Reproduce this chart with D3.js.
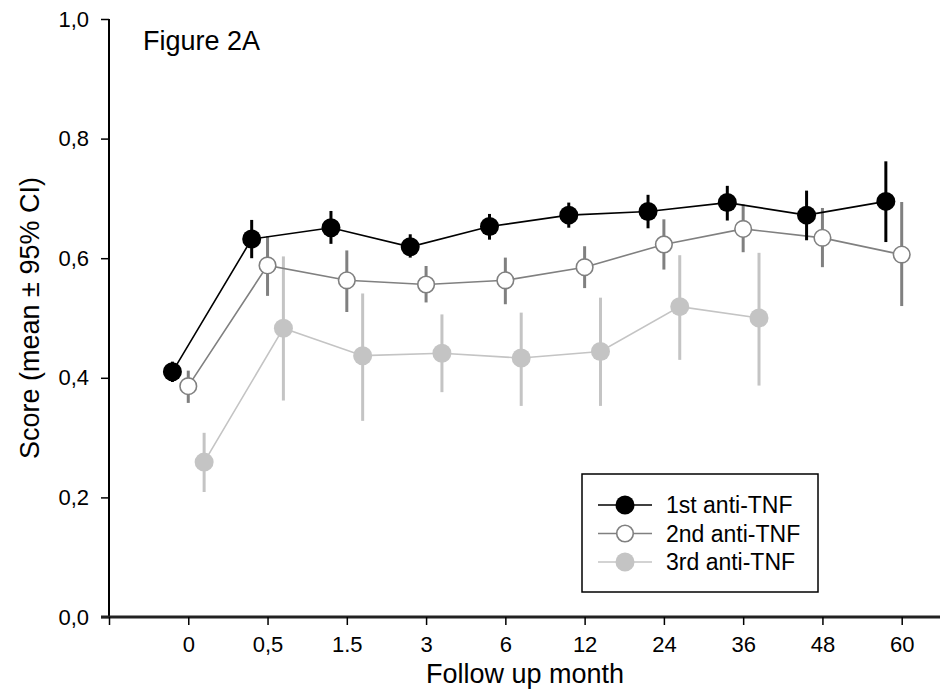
<!DOCTYPE html>
<html>
<head>
<meta charset="utf-8">
<script src="https://cdn.jsdelivr.net/npm/d3@7/dist/d3.min.js"></script>
<style>
  html, body { margin: 0; padding: 0; background: #fff; }
  svg { display: block; font-family: "Liberation Sans", Arial, sans-serif; }
</style>
</head>
<body>
<svg id="chart" width="940" height="691"></svg>
<script>
// ---- data ----
const categories = ["0", "0,5", "1.5", "3", "6", "12", "24", "36", "48", "60"];
const yTicks = [0, 0.2, 0.4, 0.6, 0.8, 1.0];

const firstMean = [0.410, 0.632, 0.651, 0.619, 0.653, 0.672, 0.678, 0.693, 0.672, 0.695];
const firstLow  = [0.393, 0.600, 0.624, 0.601, 0.631, 0.651, 0.650, 0.663, 0.630, 0.627];
const firstHigh = [0.427, 0.664, 0.679, 0.640, 0.674, 0.693, 0.706, 0.721, 0.713, 0.762];

const secondMean = [0.386, 0.588, 0.563, 0.556, 0.563, 0.585, 0.623, 0.649, 0.634, 0.606];
const secondLow  = [0.358, 0.537, 0.510, 0.526, 0.523, 0.550, 0.581, 0.610, 0.585, 0.520];
const secondHigh = [0.412, 0.637, 0.613, 0.587, 0.601, 0.620, 0.665, 0.690, 0.684, 0.694];

const thirdMean = [0.259, 0.483, 0.437, 0.441, 0.433, 0.444, 0.519, 0.500];
const thirdLow  = [0.209, 0.362, 0.328, 0.376, 0.353, 0.353, 0.430, 0.387];
const thirdHigh = [0.308, 0.603, 0.541, 0.506, 0.509, 0.534, 0.605, 0.609];

const seriesNames = ["1st anti-TNF", "2nd anti-TNF", "3rd anti-TNF"];

// ---- layout ----
const svg = d3.select("#chart");
const x0 = 109, step = 79.27;
const x = d3.scaleLinear().domain([-1, 10.5]).range([x0, x0 + 11.5 * step]);
const y = d3.scaleLinear().domain([0, 1]).range([617, 19]);

const series = [
  { name: seriesNames[2], mean: thirdMean, low: thirdLow, high: thirdHigh, dodge: 0.2,
    line: "#c4c4c4", err: "#c4c4c4", fill: "#c4c4c4", stroke: "none", r: 9.5 },
  { name: seriesNames[1], mean: secondMean, low: secondLow, high: secondHigh, dodge: 0,
    line: "#808080", err: "#808080", fill: "#ffffff", stroke: "#808080", r: 8.3 },
  { name: seriesNames[0], mean: firstMean, low: firstLow, high: firstHigh, dodge: -0.2,
    line: "#000000", err: "#000000", fill: "#000000", stroke: "none", r: 9.5 }
];

// ---- axes ----
const yAxis = d3.axisLeft(y).tickValues(yTicks).tickSize(8).tickPadding(12)
  .tickFormat(d => d3.format(".1f")(d).replace(".", ","));
const gy = svg.append("g").attr("transform", `translate(${x0},0)`).call(yAxis);
gy.select(".domain").attr("stroke", "#000").attr("stroke-width", 2).attr("d", `M0,${y(1)}V${y(0)}`);
gy.selectAll(".tick line").attr("stroke", "#000").attr("stroke-width", 1.5);
gy.selectAll(".tick text").attr("font-size", 22).attr("fill", "#000")
  .attr("font-family", "Liberation Sans, Arial, sans-serif");

const xAxis = d3.axisBottom(x).tickValues(d3.range(-1, 10)).tickSize(8).tickPadding(11)
  .tickFormat(d => d < 0 ? "" : categories[d]);
const gx = svg.append("g").attr("transform", `translate(0,${y(0)})`).call(xAxis);
gx.select(".domain").attr("stroke", "#222").attr("stroke-width", 2.8).attr("d", `M${x0 - 8},0H940`);
gx.selectAll(".tick line").attr("stroke", "#000").attr("stroke-width", 1.5);
gx.selectAll(".tick text").attr("font-size", 22).attr("fill", "#000")
  .attr("font-family", "Liberation Sans, Arial, sans-serif");

// axis titles
svg.append("text")
  .attr("transform", `translate(39,${(y(0) + y(1)) / 2}) rotate(-90)`)
  .attr("text-anchor", "middle").attr("font-size", 27).attr("fill", "#000")
  .text("Score (mean \u00B1 95% CI)");
svg.append("text")
  .attr("x", 525).attr("y", 683).attr("text-anchor", "middle")
  .attr("font-size", 27).attr("fill", "#000")
  .text("Follow up month");

svg.append("text")
  .attr("x", 143).attr("y", 50).attr("font-size", 27).attr("fill", "#000")
  .text("Figure 2A");

// ---- series ----
series.forEach(s => {
  const g = svg.append("g");
  const pts = s.mean.map((m, i) => ({ i, m, lo: s.low[i], hi: s.high[i] }));
  const line = d3.line().x(d => x(d.i + s.dodge)).y(d => y(d.m));
  g.append("path").datum(pts).attr("d", line).attr("fill", "none")
    .attr("stroke", s.line).attr("stroke-width", 1.6);
  g.selectAll("line.err").data(pts).join("line").attr("class", "err")
    .attr("x1", d => x(d.i + s.dodge)).attr("x2", d => x(d.i + s.dodge))
    .attr("y1", d => y(d.lo)).attr("y2", d => y(d.hi))
    .attr("stroke", s.err).attr("stroke-width", 3);
  g.selectAll("circle").data(pts).join("circle")
    .attr("cx", d => x(d.i + s.dodge)).attr("cy", d => y(d.m)).attr("r", s.r)
    .attr("fill", s.fill).attr("stroke", s.stroke).attr("stroke-width", 1.6);
});

// ---- legend ----
const lg = svg.append("g");
lg.append("rect").attr("x", 582).attr("y", 474).attr("width", 236).attr("height", 118)
  .attr("fill", "#fff").attr("stroke", "#000").attr("stroke-width", 1.5);
const legendOrder = [series[2], series[1], series[0]];
legendOrder.forEach((s, k) => {
  const cy = 505 + k * 28.5;
  lg.append("line").attr("x1", 598).attr("x2", 652).attr("y1", cy).attr("y2", cy)
    .attr("stroke", s.line).attr("stroke-width", 1.6);
  lg.append("circle").attr("cx", 625).attr("cy", cy).attr("r", s.r)
    .attr("fill", s.fill).attr("stroke", s.stroke).attr("stroke-width", 1.6);
  lg.append("text").attr("x", 666).attr("y", cy).attr("dy", "0.35em")
    .attr("font-size", 23).attr("fill", "#000").text(s.name);
});
</script>
</body>
</html>
